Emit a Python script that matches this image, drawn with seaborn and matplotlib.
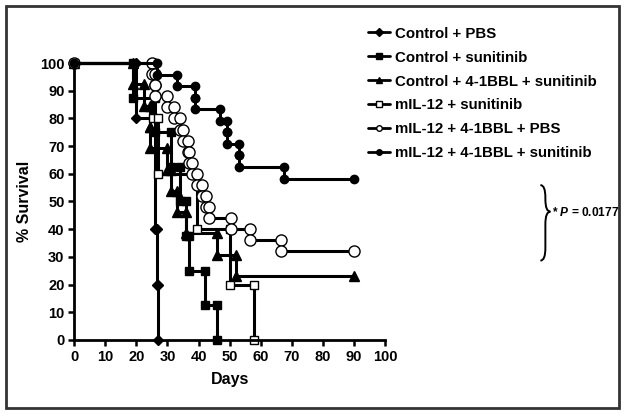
import matplotlib
matplotlib.use("Agg")
import matplotlib.pyplot as plt
from matplotlib.patches import Rectangle, PathPatch
from matplotlib.path import Path
import seaborn as sns
import pandas as pd

# group names, event days and survival (%) after each event
groups = [
    "Control + PBS",
    "Control + sunitinib",
    "Control + 4-1BBL + sunitinib",
    "mIL-12 + sunitinib",
    "mIL-12 + 4-1BBL + PBS",
    "mIL-12 + 4-1BBL + sunitinib",
]
event_days = {
    "Control + PBS": [20, 26, 26.5, 27],
    "Control + sunitinib": [19, 26, 31, 34, 36, 37, 42, 46],
    "Control + 4-1BBL + sunitinib": [19, 22.5, 24.5, 24.5, 30, 31, 33, 36, 46, 52],
    "mIL-12 + sunitinib": [25.5, 27, 39.5, 50, 58],
    "mIL-12 + 4-1BBL + PBS": [25, 26, 26, 30, 32, 34, 35, 36.5, 37, 38, 39.5,
                              41, 42.5, 43.5, 50.5, 56.5, 66.5],
    "mIL-12 + 4-1BBL + sunitinib": [26.5, 33, 39, 39, 47, 49, 49, 53, 53, 67.5],
}
survival = {
    "Control + PBS": [80, 40, 20, 0],
    "Control + sunitinib": [87.5, 75, 62.5, 50, 37.5, 25, 12.5, 0],
    "Control + 4-1BBL + sunitinib": [92.3, 84.6, 76.9, 69.2, 61.5, 53.8, 46.2, 38.5, 30.8, 23.1],
    "mIL-12 + sunitinib": [80, 60, 40, 20, 0],
    "mIL-12 + 4-1BBL + PBS": [96, 92, 88, 84, 80, 76, 72, 68, 64, 60, 56,
                              52, 48, 44, 40, 36, 32],
    "mIL-12 + 4-1BBL + sunitinib": [95.8, 91.7, 87.5, 83.3, 79.2, 75, 70.8, 66.7, 62.5, 58.3, 54.2],
}
last_day = {
    "Control + PBS": None,
    "Control + sunitinib": None,
    "Control + 4-1BBL + sunitinib": 90,
    "mIL-12 + sunitinib": None,
    "mIL-12 + 4-1BBL + PBS": 90,
    "mIL-12 + 4-1BBL + sunitinib": 90,
}
x_ticks = list(range(0, 101, 10))
y_ticks = list(range(0, 101, 10))
p_label = "* $P$ = 0.0177"

styles = {
    "Control + PBS": dict(marker="D", markersize=5, markerfacecolor="black"),
    "Control + sunitinib": dict(marker="s", markersize=6, markerfacecolor="black"),
    "Control + 4-1BBL + sunitinib": dict(marker="^", markersize=7, markerfacecolor="black"),
    "mIL-12 + sunitinib": dict(marker="s", markersize=6, markerfacecolor="white"),
    "mIL-12 + 4-1BBL + PBS": dict(marker="o", markersize=8, markerfacecolor="white"),
    "mIL-12 + 4-1BBL + sunitinib": dict(marker="o", markersize=6, markerfacecolor="black"),
}


def step_frame(name):
    # Kaplan-Meier style: vertical drop at each event day
    xs, ys = [0], [100]
    prev = 100
    for d, s in zip(event_days[name], survival[name]):
        xs += [d, d]
        ys += [prev, s]
        prev = s
    if last_day[name] is not None:
        xs.append(last_day[name])
        ys.append(prev)
    return pd.DataFrame({"day": xs, "surv": ys, "group": name})


def curly_brace(x0, x1, ytop, ybot, ytip):
    # right-pointing brace in figure coordinates
    xm = (x0 + x1) / 2
    r = 0.03
    verts = [(x0, ytop), (xm, ytop), (xm, ytop - r),
             (xm, ytip + r), (xm, ytip), (x1, ytip),
             (xm, ytip), (xm, ytip - r),
             (xm, ybot + r), (xm, ybot), (x0, ybot)]
    codes = [Path.MOVETO, Path.CURVE3, Path.CURVE3,
             Path.LINETO, Path.CURVE3, Path.CURVE3,
             Path.CURVE3, Path.CURVE3,
             Path.LINETO, Path.CURVE3, Path.CURVE3]
    return Path(verts, codes)


sns.set_theme(style="white")
plt.rcParams["font.family"] = ["Liberation Sans", "DejaVu Sans"]
plt.rcParams["font.weight"] = "bold"
plt.rcParams["text.color"] = "black"
plt.rcParams["axes.labelcolor"] = "black"
plt.rcParams["mathtext.fontset"] = "custom"
plt.rcParams["mathtext.it"] = "Liberation Sans:bold:italic"
plt.rcParams["mathtext.rm"] = "Liberation Sans:bold"

fig = plt.figure(figsize=(6.24, 4.15), dpi=100)
ax = fig.add_axes([0.119, 0.181, 0.498, 0.667])

for name in groups:
    sns.lineplot(data=step_frame(name), x="day", y="surv", ax=ax, estimator=None,
                 sort=False, color="black", linewidth=2.2, markeredgecolor="black",
                 markeredgewidth=1.0, clip_on=False, label=name, **styles[name])

ax.set_xlim(0, 100)
ax.set_ylim(0, 100)
ax.set_xticks(x_ticks)
ax.set_yticks(y_ticks)
ax.tick_params(direction="out", length=4, width=1.8, labelsize=10.5, pad=3,
               bottom=True, left=True, colors="black")
for lab in ax.get_xticklabels() + ax.get_yticklabels():
    lab.set_fontweight("bold")
for side in ["top", "right"]:
    ax.spines[side].set_visible(False)
for side in ["left", "bottom"]:
    ax.spines[side].set_linewidth(2)
    ax.spines[side].set_color("black")
ax.set_xlabel("Days", fontsize=11.5, fontweight="bold", labelpad=6)
ax.set_ylabel("% Survival", fontsize=11.5, fontweight="bold", labelpad=6)

handles, labels = ax.get_legend_handles_labels()
ax.legend_.remove()
leg = fig.legend(handles, labels, loc="upper left", bbox_to_anchor=(0.58, 0.95),
                 frameon=False, fontsize=10.8, handlelength=1.5, handletextpad=0.3,
                 labelspacing=0.66, borderaxespad=0)
for h in leg.legend_handles:
    h.set_markersize(4)
    h.set_linewidth(2)
for t in leg.get_texts():
    t.set_fontweight("bold")

fig.patches.append(PathPatch(curly_brace(0.866, 0.882, 0.554, 0.372, 0.49),
                             transform=fig.transFigure, fill=False,
                             edgecolor="black", linewidth=1.4))
fig.text(0.884, 0.487, p_label, fontsize=8.6, fontweight="bold", ha="left", va="center")

fig.patches.append(Rectangle((0.0096, 0.017), 0.9824, 0.9685, transform=fig.transFigure,
                             fill=False, edgecolor="#333333", linewidth=2))

fig.savefig("out.png", dpi=100)
